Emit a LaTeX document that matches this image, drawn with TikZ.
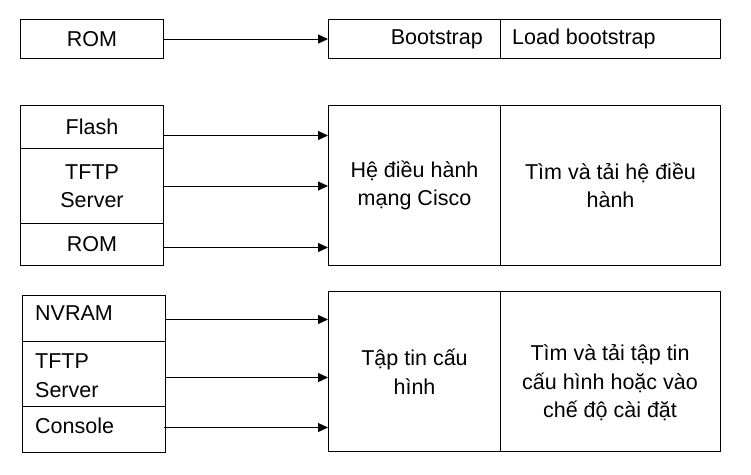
\documentclass[tikz,border=0pt]{standalone}
\usepackage{fontspec}
\setmainfont{Liberation Sans}
\usetikzlibrary{arrows.meta}
\begin{document}
\begin{tikzpicture}[x=1pt,y=-1pt,
  box/.style={draw, line width=1pt, inner sep=0pt, anchor=north west, font=\fontsize{21.5}{28.5}\selectfont, align=center},
  txt/.style={font=\fontsize{21.5}{28.5}\selectfont, inner sep=0pt},
  arr/.style={line width=1pt, -{Triangle[length=10pt,width=9pt]}}]
\useasboundingbox (0,0) rectangle (751,474);
% top row
\node[box, minimum width=143pt, minimum height=39pt] (rom1) at (20,19) {ROM};
\node[box, minimum width=172pt, minimum height=39pt] (boot) at (328,19) {};
\node[box, minimum width=220pt, minimum height=39pt] (load) at (500,19) {};
\node[txt, anchor=east] (boottxt) at (483,39) {Bootstrap};
\node[txt, anchor=west] (loadtxt) at (512,39) {Load bootstrap};
% second group
\node[box, minimum width=143pt, minimum height=43pt] (flash) at (20,105) {Flash};
\node[box, minimum width=143pt, minimum height=75pt] (tftp1) at (20,148) {TFTP\\Server};
\node[box, minimum width=143pt, minimum height=42pt] (rom2) at (20,223) {ROM};
\node[box, minimum width=172pt, minimum height=160pt] (os) at (328,105) {Hệ điều hành\\mạng Cisco};
\node[box, minimum width=220pt, minimum height=160pt] (findos) at (500,105) {Tìm và tải hệ điều\\hành};
% third group
\node[box, minimum width=143pt, minimum height=46pt] (nvram) at (22,295) {};
\node[box, minimum width=143pt, minimum height=65pt] (tftp2) at (22,341) {};
\node[box, minimum width=143pt, minimum height=46pt] (console) at (22,406) {};
\node[txt, anchor=west] (nvramtxt) at (35,313) {NVRAM};
\node[txt, anchor=west, align=left] (tftp2txt) at (35,375.5) {TFTP\\Server};
\node[txt, anchor=west] (consoletxt) at (35,426) {Console};
\node[box, minimum width=172pt, minimum height=160pt] (cfg) at (328,291) {Tập tin cấu\\hình};
\node[box, minimum width=220pt, minimum height=160pt] (findcfg) at (500,291) {};
\node[txt, align=center] (findcfgtxt) at (610,383) {Tìm và tải tập tin\\cấu hình hoặc vào\\chế độ cài đặt};
% arrows
\draw[arr] (rom1.east) -- (rom1.east -| boot.west);
\coordinate (a1) at ([yshift=-8.5pt]flash.east);
\coordinate (a2) at ([yshift=0pt]tftp1.east);
\coordinate (a3) at ([yshift=-3pt]rom2.east);
\draw[arr] (a1) -- (a1 -| os.west);
\draw[arr] (a2) -- (a2 -| os.west);
\draw[arr] (a3) -- (a3 -| os.west);
\coordinate (b1) at ([yshift=-1pt]nvram.east);
\coordinate (b2) at ([yshift=-3.5pt]tftp2.east);
\coordinate (b3) at ([yshift=2pt,xshift=-2pt]console.east);
\draw[arr] (b1) -- (b1 -| cfg.west);
\draw[arr] (b2) -- (b2 -| cfg.west);
\draw[arr] (b3) -- (b3 -| cfg.west);
\end{tikzpicture}
\end{document}
